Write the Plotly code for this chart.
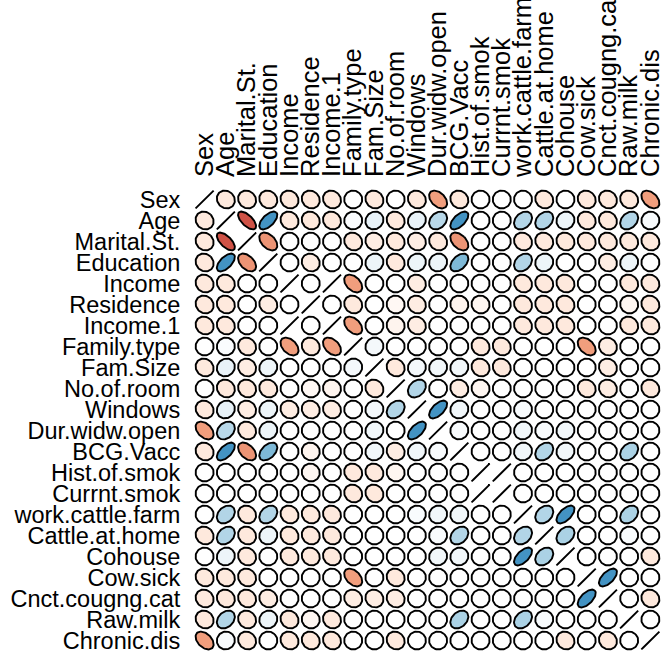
import numpy as np
import plotly.graph_objects as go

variables = [
    "Sex", "Age", "Marital.St.", "Education", "Income", "Residence", "Income.1",
    "Family.type", "Fam.Size", "No.of.room", "Windows", "Dur.widw.open", "BCG.Vacc",
    "Hist.of.smok", "Currnt.smok", "work.cattle.farm", "Cattle.at.home", "Cohouse",
    "Cow.sick", "Cnct.cougng.cat", "Raw.milk", "Chronic.dis",
]

# Lower triangle of the correlation matrix: row i holds r(i, 0..i-1)
r_age = [-0.12]
r_marital = [-0.12, -0.64]
r_education = [-0.12, 0.6, -0.45]
r_income = [-0.12, -0.12, 0.0, 0.0]
r_residence = [-0.12, -0.12, 0.0, -0.1, 0.0]
r_income1 = [-0.12, -0.12, 0.0, 0.0, 1.0, 0.0]
r_family_type = [0.0, 0.02, -0.12, 0.0, -0.42, -0.12, -0.42]
r_fam_size = [-0.12, 0.1, -0.1, 0.08, 0.0, 0.0, 0.0, 0.05]
r_rooms = [0.0, -0.12, -0.12, -0.12, 0.0, -0.04, -0.06, 0.0, -0.12]
r_windows = [-0.12, 0.1, -0.1, 0.08, -0.1, -0.1, -0.1, 0.0, 0.05, 0.3]
r_dur_open = [-0.42, 0.28, -0.12, 0.08, 0.0, 0.0, 0.0, 0.0, 0.06, 0.0, 0.6]
r_bcg = [-0.12, 0.6, -0.45, 0.45, 0.0, -0.06, 0.0, 0.0, 0.06, -0.1, 0.06, 0.03]
r_hist_smok = [0.0, 0.0, 0.0, 0.0, 0.0, -0.05, 0.0, -0.12, -0.12, -0.05, 0.0, 0.0, 0.0]
r_curr_smok = [0.0, 0.0, 0.0, 0.0, 0.0, 0.0, 0.0, -0.12, -0.12, 0.0, 0.0, 0.0, 0.0, 1.0]
r_work_farm = [0.0, 0.3, -0.12, 0.3, -0.12, -0.12, -0.12, 0.0, 0.0, 0.0, 0.03, 0.06, 0.06,
               0.0, 0.0]
r_cattle_home = [-0.12, 0.3, -0.12, 0.08, -0.12, -0.12, -0.12, 0.0, 0.0, 0.0, 0.0, 0.03,
                 0.3, 0.0, 0.0, 0.3]
r_cohouse = [0.0, 0.08, -0.12, 0.0, -0.12, -0.12, -0.12, 0.0, 0.0, 0.0, 0.0, 0.06, 0.06,
             0.0, 0.0, 0.6, 0.32]
r_cow_sick = [-0.12, -0.12, -0.12, 0.0, 0.0, 0.0, 0.0, -0.42, 0.0, -0.12, 0.0, 0.0, 0.0,
              0.0, 0.0, 0.0, 0.0, 0.0]
r_cough_cat = [-0.12, -0.12, -0.12, -0.1, 0.0, 0.0, 0.0, -0.1, -0.1, -0.1, 0.0, 0.0, 0.0,
               0.0, 0.0, 0.0, 0.0, 0.0, 0.6]
r_raw_milk = [-0.12, 0.3, -0.12, 0.08, -0.12, -0.05, -0.12, 0.0, 0.0, 0.0, 0.0, 0.0, 0.32,
              0.0, 0.0, 0.32, 0.03, 0.0, 0.0, 0.0]
r_chronic = [-0.42, 0.03, -0.12, 0.0, -0.12, -0.12, -0.12, 0.0, 0.0, -0.12, 0.0, 0.0, 0.0,
             0.0, 0.0, 0.0, 0.0, -0.12, 0.0, -0.12, 0.0]

lower_rows = [[], r_age, r_marital, r_education, r_income, r_residence, r_income1,
              r_family_type, r_fam_size, r_rooms, r_windows, r_dur_open, r_bcg,
              r_hist_smok, r_curr_smok, r_work_farm, r_cattle_home, r_cohouse,
              r_cow_sick, r_cough_cat, r_raw_milk, r_chronic]

n = len(variables)
corr = np.eye(n)
for i, row in enumerate(lower_rows):
    for j, v in enumerate(row):
        corr[i, j] = v
        corr[j, i] = v

# Red-white-blue diverging palette (negative = red, positive = blue)
palette = ["#67001F", "#B2182B", "#D6604D", "#F4A582", "#FDDBC7", "#FFFFFF",
           "#D1E5F0", "#92C5DE", "#4393C3", "#2166AC", "#053061"]
pal_rgb = np.array([[int(h[k:k + 2], 16) for k in (1, 3, 5)] for h in palette], float)
pal_pos = np.linspace(-1, 1, len(palette))


def corr_color(v):
    rgb = [np.interp(v, pal_pos, pal_rgb[:, c]) for c in range(3)]
    return "rgb(%d,%d,%d)" % tuple(int(round(c)) for c in rgb)


# Each cell: an ellipse whose elongation and tilt follow the correlation
theta = np.linspace(0, 2 * np.pi, 72)
fig = go.Figure()
for i in range(n):
    for j in range(n):
        rho = float(np.clip(corr[i, j], -1, 1))
        half = np.arccos(rho) / 2
        ex = 0.85 * np.cos(theta + half) / 2
        ey = 0.85 * np.cos(theta - half) / 2
        fig.add_trace(go.Scatter(
            x=j + ex, y=i - ey, mode="lines", fill="toself",
            fillcolor=corr_color(rho),
            line=dict(color="black", width=1.9),
            hoverinfo="skip", showlegend=False,
        ))

fig.update_layout(
    width=668, height=660,
    margin=dict(l=194, r=7, t=189, b=9),
    paper_bgcolor="white", plot_bgcolor="white",
    font=dict(family="Liberation Sans, Arial, sans-serif", color="black"),
)
fig.update_xaxes(
    range=[-0.5, n - 0.5], side="top", tickmode="array",
    tickvals=list(range(n)), ticktext=variables, tickangle=-90,
    tickfont=dict(size=25.5), ticks="outside", ticklen=6,
    tickcolor="rgba(0,0,0,0)", showgrid=False, zeroline=False,
    showline=False, automargin=False, fixedrange=True,
)
fig.update_yaxes(
    range=[n - 0.5, -0.5], tickmode="array",
    tickvals=list(range(n)), ticktext=variables,
    tickfont=dict(size=23.5), ticks="outside", ticklen=8,
    tickcolor="rgba(0,0,0,0)", showgrid=False, zeroline=False,
    showline=False, automargin=False, fixedrange=True,
)

fig.write_html("out.html", config={"displayModeBar": False})
